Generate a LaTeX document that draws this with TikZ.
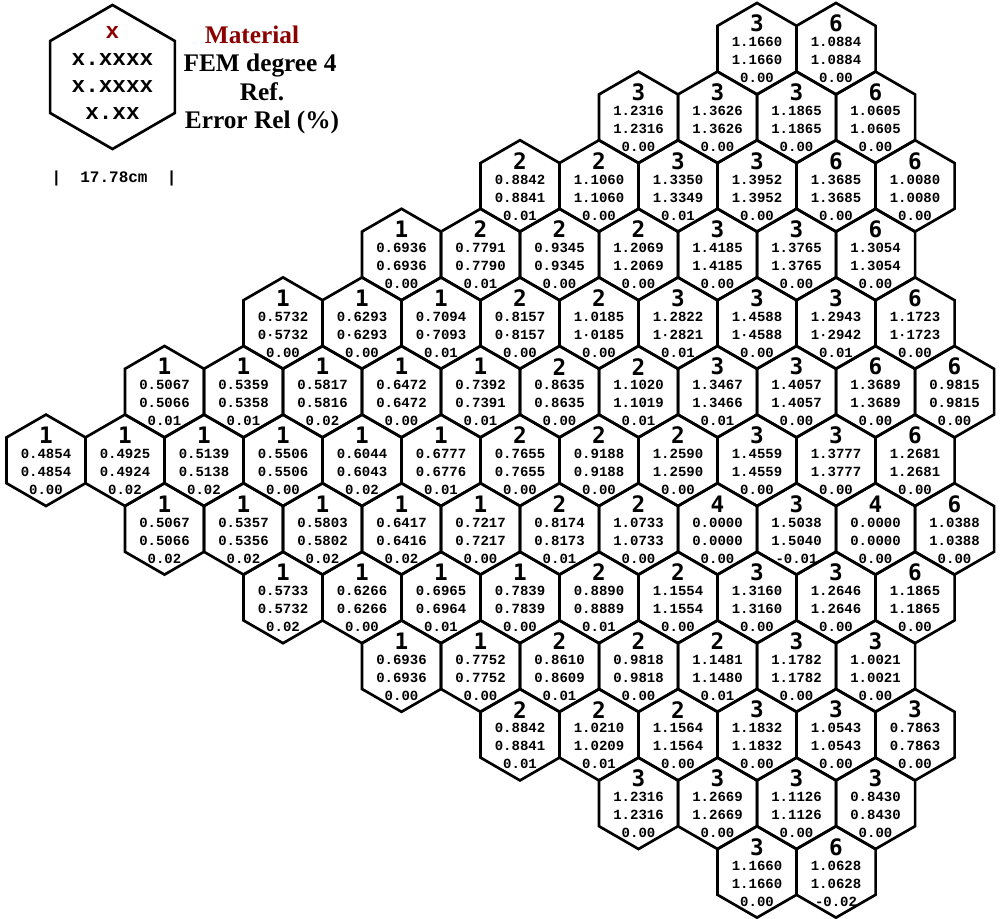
\documentclass[tikz,border=0pt]{standalone}
\usepackage{fontspec}
\setmainfont{Liberation Serif}
\newfontfamily\cellfont{Liberation Mono}
\newfontfamily\matfont{DejaVu Sans Mono}
\definecolor{matred}{RGB}{139,0,0}

\tikzset{
  hexedge/.style={line width=2pt, line join=miter},
  matnum/.style={inner sep=0pt, font=\matfont\bfseries\fontsize{17}{17}\selectfont},
  valnum/.style={inner sep=0pt, font=\cellfont\bfseries\fontsize{10.5}{10.5}\selectfont},
  sizenum/.style={inner sep=0pt, font=\cellfont\bfseries\fontsize{12}{12}\selectfont},
  legmono/.style={inner sep=0pt, font=\cellfont\bfseries\fontsize{17}{17}\selectfont},
  legtext/.style={inner sep=0pt, anchor=base, font=\bfseries\fontsize{19}{19}\selectfont},
}

% one cell: row, doubled column, material, ref value, fem value, error
\newcommand{\hexcell}[6]{%
  \coordinate (c#1-#2) at ({46+39.5*#2},{48.7+68.6*#1});
  \draw[hexedge] (c#1-#2) +(90:45.7) -- +(150:45.7) -- +(210:45.7)
    -- +(270:45.7) -- +(330:45.7) -- +(30:45.7) -- cycle;
  \node[matnum] (m#1-#2) at ({46+39.5*#2},{48.7+68.6*#1-25}) {#3};
  \node[valnum] (a#1-#2) at ({46+39.5*#2},{48.7+68.6*#1-6.5}) {#4};
  \node[valnum] (b#1-#2) at ({46+39.5*#2},{48.7+68.6*#1+11.5}) {#5};
  \node[valnum] (e#1-#2) at ({46+39.5*#2},{48.7+68.6*#1+29.5}) {#6};
}

\begin{document}
\begin{tikzpicture}[x=0.75pt,y=-0.75pt]
\useasboundingbox (0,0) rectangle (1000,918);

% legend
\draw[hexedge] (112.5,77) +(90:72) -- +(150:72) -- +(210:72)
  -- +(270:72) -- +(330:72) -- +(30:72) -- cycle;
\node[legmono,text=matred] (leg-mat) at (112.5,33) {x};
\node[legmono] (leg-ref) at (112.5,60) {x.xxxx};
\node[legmono] (leg-fem) at (112.5,87) {x.xxxx};
\node[legmono] (leg-err) at (112.5,114) {x.xx};
\node[sizenum] (leg-size) at (114,178) {|~~17.78cm~~|};

\node[legtext,text=matred] (t-mat) at (252,43.5) {Material};
\node[legtext] (t-fem) at (260,71.5) {FEM degree 4};
\node[legtext] (t-ref) at (262,100) {Ref.};
\node[legtext] (t-err) at (262,128.5) {Error Rel (\%)};

% cells, row by row
\foreach \q/\m/\a/\b/\e in {18/3/1.1660/1.1660/0.00, 20/6/1.0884/1.0884/0.00}
  {\hexcell{0}{\q}{\m}{\a}{\b}{\e}}
\foreach \q/\m/\a/\b/\e in {15/3/1.2316/1.2316/0.00, 17/3/1.3626/1.3626/0.00,
  19/3/1.1865/1.1865/0.00, 21/6/1.0605/1.0605/0.00}
  {\hexcell{1}{\q}{\m}{\a}{\b}{\e}}
\foreach \q/\m/\a/\b/\e in {12/2/0.8842/0.8841/0.01, 14/2/1.1060/1.1060/0.00,
  16/3/1.3350/1.3349/0.01, 18/3/1.3952/1.3952/0.00, 20/6/1.3685/1.3685/0.00,
  22/6/1.0080/1.0080/0.00}
  {\hexcell{2}{\q}{\m}{\a}{\b}{\e}}
\foreach \q/\m/\a/\b/\e in {9/1/0.6936/0.6936/0.00, 11/2/0.7791/0.7790/0.01,
  13/2/0.9345/0.9345/0.00, 15/2/1.2069/1.2069/0.00, 17/3/1.4185/1.4185/0.00,
  19/3/1.3765/1.3765/0.00, 21/6/1.3054/1.3054/0.00}
  {\hexcell{3}{\q}{\m}{\a}{\b}{\e}}
\foreach \q/\m/\a/\b/\e in {6/1/0.5732/0·5732/0.00, 8/1/0.6293/0·6293/0.00,
  10/1/0.7094/0·7093/0.01, 12/2/0.8157/0·8157/0.00, 14/2/1.0185/1·0185/0.00,
  16/3/1.2822/1·2821/0.01, 18/3/1.4588/1·4588/0.00, 20/3/1.2943/1·2942/0.01,
  22/6/1.1723/1·1723/0.00}
  {\hexcell{4}{\q}{\m}{\a}{\b}{\e}}
\foreach \q/\m/\a/\b/\e in {3/1/0.5067/0.5066/0.01, 5/1/0.5359/0.5358/0.01,
  7/1/0.5817/0.5816/0.02, 9/1/0.6472/0.6472/0.00, 11/1/0.7392/0.7391/0.01,
  13/2/0.8635/0.8635/0.00, 15/2/1.1020/1.1019/0.01, 17/3/1.3467/1.3466/0.01,
  19/3/1.4057/1.4057/0.00, 21/6/1.3689/1.3689/0.00, 23/6/0.9815/0.9815/0.00}
  {\hexcell{5}{\q}{\m}{\a}{\b}{\e}}
\foreach \q/\m/\a/\b/\e in {0/1/0.4854/0.4854/0.00, 2/1/0.4925/0.4924/0.02,
  4/1/0.5139/0.5138/0.02, 6/1/0.5506/0.5506/0.00, 8/1/0.6044/0.6043/0.02,
  10/1/0.6777/0.6776/0.01, 12/2/0.7655/0.7655/0.00, 14/2/0.9188/0.9188/0.00,
  16/2/1.2590/1.2590/0.00, 18/3/1.4559/1.4559/0.00, 20/3/1.3777/1.3777/0.00,
  22/6/1.2681/1.2681/0.00}
  {\hexcell{6}{\q}{\m}{\a}{\b}{\e}}
\foreach \q/\m/\a/\b/\e in {3/1/0.5067/0.5066/0.02, 5/1/0.5357/0.5356/0.02,
  7/1/0.5803/0.5802/0.02, 9/1/0.6417/0.6416/0.02, 11/1/0.7217/0.7217/0.00,
  13/2/0.8174/0.8173/0.01, 15/2/1.0733/1.0733/0.00, 17/4/0.0000/0.0000/0.00,
  19/3/1.5038/1.5040/-0.01, 21/4/0.0000/0.0000/0.00, 23/6/1.0388/1.0388/0.00}
  {\hexcell{7}{\q}{\m}{\a}{\b}{\e}}
\foreach \q/\m/\a/\b/\e in {6/1/0.5733/0.5732/0.02, 8/1/0.6266/0.6266/0.00,
  10/1/0.6965/0.6964/0.01, 12/1/0.7839/0.7839/0.00, 14/2/0.8890/0.8889/0.01,
  16/2/1.1554/1.1554/0.00, 18/3/1.3160/1.3160/0.00, 20/3/1.2646/1.2646/0.00,
  22/6/1.1865/1.1865/0.00}
  {\hexcell{8}{\q}{\m}{\a}{\b}{\e}}
\foreach \q/\m/\a/\b/\e in {9/1/0.6936/0.6936/0.00, 11/1/0.7752/0.7752/0.00,
  13/2/0.8610/0.8609/0.01, 15/2/0.9818/0.9818/0.00, 17/2/1.1481/1.1480/0.01,
  19/3/1.1782/1.1782/0.00, 21/3/1.0021/1.0021/0.00}
  {\hexcell{9}{\q}{\m}{\a}{\b}{\e}}
\foreach \q/\m/\a/\b/\e in {12/2/0.8842/0.8841/0.01, 14/2/1.0210/1.0209/0.01,
  16/2/1.1564/1.1564/0.00, 18/3/1.1832/1.1832/0.00, 20/3/1.0543/1.0543/0.00,
  22/3/0.7863/0.7863/0.00}
  {\hexcell{10}{\q}{\m}{\a}{\b}{\e}}
\foreach \q/\m/\a/\b/\e in {15/3/1.2316/1.2316/0.00, 17/3/1.2669/1.2669/0.00,
  19/3/1.1126/1.1126/0.00, 21/3/0.8430/0.8430/0.00}
  {\hexcell{11}{\q}{\m}{\a}{\b}{\e}}
\foreach \q/\m/\a/\b/\e in {18/3/1.1660/1.1660/0.00, 20/6/1.0628/1.0628/-0.02}
  {\hexcell{12}{\q}{\m}{\a}{\b}{\e}}
\end{tikzpicture}
\end{document}
